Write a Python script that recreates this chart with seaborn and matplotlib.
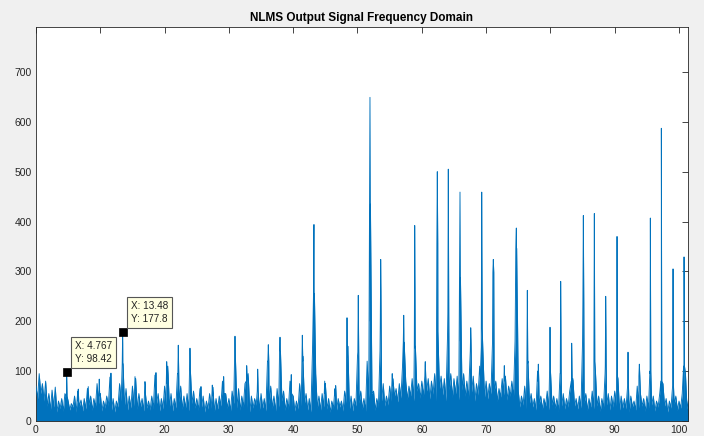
import numpy as np
import pandas as pd
import matplotlib
matplotlib.use("Agg")
import matplotlib.pyplot as plt
import seaborn as sns

# Broadband floor of |Y(f)|: local maxima every 0.5 Hz, starting at 0 Hz
floor_peak = [
    70, 95, 75, 80, 55, 62, 68, 40, 45, 55,
    40, 35, 50, 60, 42, 45, 65, 50, 45, 75,
    55, 40, 50, 88, 45, 40, 75, 115, 65, 50,
    70, 85, 55, 45, 72, 40, 50, 92, 55, 45,
    70, 110, 55, 45, 95, 70, 50, 55, 120, 60,
    45, 65, 50, 40, 55, 68, 45, 50, 80, 55,
    45, 60, 130, 65, 50, 75, 95, 50, 45, 90,
    55, 45, 120, 70, 50, 65, 140, 60, 45, 80,
    50, 40, 75, 130, 55, 45, 140, 95, 50, 55,
    75, 45, 40, 65, 45, 40, 60, 150, 50, 45,
    130, 60, 45, 120, 200, 60, 45, 140, 75, 50,
    70, 85, 65, 75, 110, 80, 70, 85, 150, 75,
    80, 110, 85, 80, 95, 180, 90, 85, 170, 95,
    85, 90, 160, 95, 80, 130, 90, 75, 110, 140,
    80, 75, 160, 80, 65, 85, 90, 70, 80, 160,
    60, 50, 70, 120, 55, 45, 100, 50, 45, 60,
    110, 50, 45, 95, 55, 45, 60, 85, 45, 50,
    160, 55, 45, 60, 100, 50, 45, 95, 55, 50,
    60, 85, 50, 45, 75, 50, 40, 70, 55, 45,
    50, 95, 50, 40, 55, 75, 45, 40, 90, 50,
    40, 55, 95, 45,
]

# Floor level between those maxima (0.25 Hz, 0.75 Hz, ...)
floor_dip = [
    45, 55, 40, 30, 22, 28, 18, 25, 20, 26,
    22, 28, 18, 30, 20, 24, 32, 22, 28, 34,
    20, 26, 30, 22, 18, 28, 40, 30, 22, 26,
    30, 24, 28, 20, 26, 22, 25, 35, 20, 24,
    32, 28, 20, 26, 38, 24, 26, 20, 35, 26,
    22, 28, 18, 24, 26, 20, 24, 30, 22, 26,
    20, 35, 26, 22, 28, 24, 18, 26, 32, 22,
    26, 20, 34, 26, 20, 28, 40, 22, 24, 28,
    20, 24, 30, 36, 22, 18, 45, 26, 22, 28,
    24, 18, 26, 22, 28, 20, 36, 24, 20, 30,
    36, 24, 20, 45, 55, 22, 28, 40, 30, 32,
    40, 50, 38, 46, 55, 44, 50, 40, 60, 46,
    50, 60, 44, 54, 40, 65, 52, 40, 62, 48,
    55, 42, 62, 50, 45, 58, 40, 52, 56, 48,
    44, 54, 60, 40, 48, 52, 42, 50, 46, 58,
    28, 32, 24, 36, 28, 22, 34, 24, 30, 22,
    32, 26, 20, 30, 24, 28, 20, 30, 24, 26,
    36, 22, 28, 24, 30, 20, 26, 32, 22, 28,
    30, 22, 26, 24, 18, 28, 22, 26, 30, 20,
    24, 32, 20, 28, 22, 30, 18, 26, 34, 22,
    26, 20, 24,
]

# Harmonic lines riding on the floor: centre frequency, line height, lobe height
harmonic_freq = [
    4.767, 6.58, 8.13, 9.84, 11.66, 13.48, 15.40, 16.95, 18.66, 20.33,
    22.13, 23.95, 25.66, 27.42, 29.19, 30.95, 32.77, 34.48, 36.13, 37.95,
    39.70, 41.42, 43.23, 44.90, 46.61, 48.37, 50.12, 51.94, 53.61, 55.40,
    57.19, 58.90, 60.54, 62.41, 64.12, 65.94, 67.61, 69.32, 71.12, 72.83,
    74.70, 76.41, 78.12, 79.94, 81.60, 83.31, 85.12, 86.83, 88.60, 90.36,
    92.07, 93.83, 95.54, 97.25, 99.07, 100.78,
]
harmonic_mag = [
    98.42, 64, 69, 84, 96, 177.8, 89, 79, 97, 119,
    152, 146, 69, 72, 89, 170, 111, 104, 153, 168,
    93, 172, 394, 80, 71, 207, 252, 649, 324, 95,
    212, 392, 119, 500, 505, 459, 187, 459, 324, 111,
    387, 262, 114, 188, 280, 156, 412, 416, 250, 370,
    138, 114, 407, 587, 305, 329,
]
harmonic_lobe = [
    50, 40, 45, 50, 55, 115, 60, 55, 60, 75,
    95, 100, 45, 50, 55, 125, 80, 60, 120, 140,
    55, 120, 256, 55, 50, 128, 138, 435, 192, 70,
    158, 146, 90, 356, 216, 288, 140, 186, 298, 80,
    346, 116, 80, 100, 95, 80, 238, 120, 110, 90,
    70, 90, 100, 80, 70, 110,
]

# Data cursor readouts
tip_freq = [4.767, 13.48]
tip_mag = [98.42, 177.8]

LINE_BLUE = "#0072BD"
AXIS_GREY = "#262626"
LOBE_HALF_WIDTH = 0.07

# Assemble the spectrum: floor maxima/levels interleaved, harmonic lines inserted
peak_x = np.arange(len(floor_peak)) * 0.5
dip_x = peak_x[:-1] + 0.25
f_parts = [peak_x, dip_x]
m_parts = [np.asarray(floor_peak, float), np.asarray(floor_dip, float)]
hf = np.asarray(harmonic_freq)
f_parts += [hf - LOBE_HALF_WIDTH, hf, hf + LOBE_HALF_WIDTH]
m_parts += [np.asarray(harmonic_lobe, float), np.asarray(harmonic_mag, float),
            np.asarray(harmonic_lobe, float)]
spectrum = pd.DataFrame({"freq": np.concatenate(f_parts),
                         "mag": np.concatenate(m_parts)}).sort_values("freq")

sns.set_style("white")
plt.rcParams["font.family"] = ["Liberation Sans", "DejaVu Sans"]

fig = plt.figure(figsize=(7.04, 4.36), dpi=100, facecolor="#f0f0f0")
ax = fig.add_axes([0.0511, 0.0344, 0.9262, 0.9036])
ax.set_facecolor("white")

# Dense spectrum body, then the trace itself on top
ax.fill_between(spectrum["freq"], spectrum["mag"], 0, color=LINE_BLUE,
                linewidth=0, zorder=2)
sns.lineplot(data=spectrum, x="freq", y="mag", ax=ax, color=LINE_BLUE,
             linewidth=0.65, estimator=None, errorbar=None, sort=True, zorder=3)

sns.scatterplot(x=tip_freq, y=tip_mag, ax=ax, marker="s", s=28,
                color="black", edgecolor="black", linewidth=0.5, zorder=6)
for f, m in zip(tip_freq, tip_mag):
    ax.annotate(f"X: {f:.4g}\nY: {m:.4g}", xy=(f, m), xytext=(6, 6),
                textcoords="offset points", ha="left", va="bottom",
                fontsize=7.2, color="#222222", linespacing=1.35, zorder=7,
                bbox=dict(boxstyle="square,pad=0.4", facecolor="#ffffe1",
                          edgecolor="#555555", linewidth=0.8))

ax.set_xlim(0, 101.4)
ax.set_ylim(0, 790)
ax.set_xticks(np.arange(0, 101, 10))
ax.set_yticks(np.arange(0, 701, 100))
ax.set_xlabel("")
ax.set_ylabel("")
ax.set_title("NLMS Output Signal Frequency Domain", fontsize=8.5,
             fontweight="bold", color="black", pad=4)

ax.tick_params(axis="both", which="both", direction="in", length=4, width=0.6,
               colors=AXIS_GREY, labelsize=7.5, top=True, right=True,
               labeltop=False, labelright=False, pad=3)
for side in ax.spines.values():
    side.set_visible(True)
    side.set_color(AXIS_GREY)
    side.set_linewidth(0.6)

fig.savefig("out.png", dpi=100, facecolor=fig.get_facecolor())
